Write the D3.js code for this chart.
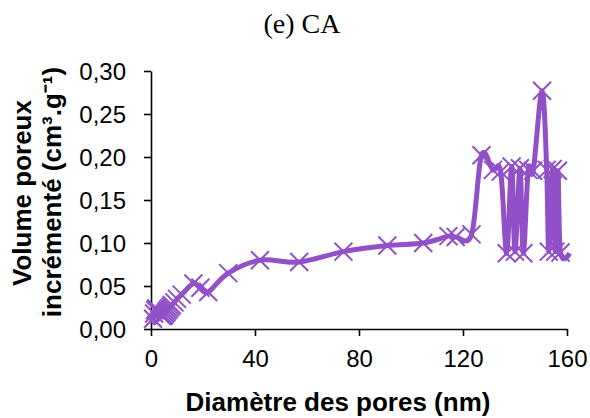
<!DOCTYPE html>
<html><head><meta charset="utf-8">
<script src="https://cdn.jsdelivr.net/npm/d3@7"></script>
<style>body{margin:0;background:#fff}</style>
</head><body>
<svg id="c" width="590" height="418"></svg>
<script>
const poreDiameter = [0.8,1.2,1.6,2.0,2.5,3.0,3.5,4.0,4.5,5.0,5.5,6.0,6.5,7.0,7.5,8.0,9.0,10.0,11.8,16.3,19,22,29.7,41.9,57,74,90.9,104.7,114.4,117.2,123.3,127.1,131.5,134.5,136.8,138.7,140,141.9,143.2,145.1,147,150.4,152.2,153,154.5,155.5,156.5,157.5,161];
const poreVolume   = [0.012,0.018,0.022,0.024,0.022,0.020,0.018,0.016,0.015,0.016,0.018,0.020,0.022,0.024,0.026,0.028,0.031,0.035,0.040,0.053,0.048,0.043,0.065,0.080,0.078,0.090,0.097,0.100,0.108,0.107,0.110,0.202,0.185,0.183,0.088,0.189,0.090,0.187,0.088,0.185,0.184,0.277,0.185,0.090,0.186,0.090,0.184,0.089,0.088];
const xTicks = [0,40,80,120,160];
const yTicks = [0,0.05,0.10,0.15,0.20,0.25,0.30];
const titleText = "(e) CA";
const xTitle = "Diamètre des pores (nm)";
const yTitle1 = "Volume poreux";
const yTitle2 = "incrémenté (cm³.g⁻¹)";

const color = "#9150C8";
const sans = "Liberation Sans, Arial, sans-serif";
const svg = d3.select("#c");
const x = d3.scaleLinear().domain([0,160]).range([151,567]);
const y = d3.scaleLinear().domain([0,0.30]).range([329,71]);
const fmt = d => d.toFixed(2).replace(".", ",");

// axes
const xa = svg.append("g").attr("transform","translate(0,329)")
  .call(d3.axisBottom(x).tickValues(xTicks).tickSize(7).tickSizeOuter(0).tickFormat(d=>d));
const ya = svg.append("g").attr("transform","translate(151,0)")
  .call(d3.axisLeft(y).tickValues(yTicks).tickSize(7).tickSizeOuter(0).tickFormat(fmt));
[xa,ya].forEach(g=>{
  g.select(".domain").attr("stroke","#000").attr("stroke-width",1.6);
  g.selectAll(".tick line").attr("stroke","#000").attr("stroke-width",1.6);
  g.selectAll("text").attr("font-family",sans).attr("font-size",24).attr("fill","#000");
});
xa.selectAll("text").attr("dy",null).attr("y",38);
ya.selectAll("text").attr("x",-25).attr("dy","0.36em");

// line
const pts = poreDiameter.map((d,i)=>[d,poreVolume[i]]);
svg.append("path").datum(pts)
  .attr("fill","none").attr("stroke",color).attr("stroke-width",5)
  .attr("stroke-linejoin","round")
  .attr("d", d3.line().x(d=>x(d[0])).y(d=>y(d[1])).curve(d3.curveCardinal.tension(0)));

// markers
const m = 9;
svg.append("g").selectAll("path").data(pts.slice(0,-1)).join("path")
  .attr("d", d=>{const cx=x(d[0]), cy=y(d[1]);
    return `M${cx-m},${cy-m}L${cx+m},${cy+m}M${cx-m},${cy+m}L${cx+m},${cy-m}`;})
  .attr("stroke",color).attr("stroke-width",2).attr("fill","none");

// titles
svg.append("text").attr("x",302).attr("y",33).attr("text-anchor","middle")
  .attr("font-family","Liberation Serif, Times New Roman, serif").attr("font-size",28).text(titleText);
svg.append("text").attr("x",338).attr("y",411).attr("text-anchor","middle")
  .attr("font-family",sans).attr("font-weight","bold").attr("font-size",26).text(xTitle);
svg.append("text").attr("transform","translate(31,193) rotate(-90)").attr("text-anchor","middle")
  .attr("font-family",sans).attr("font-weight","bold").attr("font-size",26).text(yTitle1);
svg.append("text").attr("transform","translate(61,192) rotate(-90)").attr("text-anchor","middle")
  .attr("font-family",sans).attr("font-weight","bold").attr("font-size",26).text(yTitle2);
</script>
</body></html>
